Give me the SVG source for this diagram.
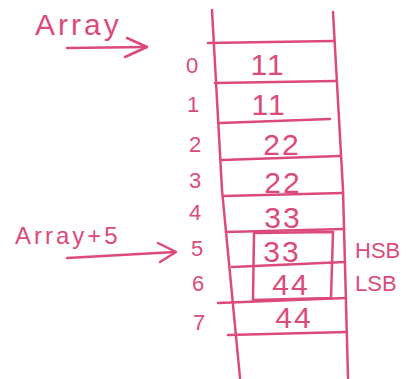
<svg xmlns="http://www.w3.org/2000/svg" width="409" height="379" viewBox="0 0 409 379">
<style>
.ink{stroke:#dc4a7c;stroke-width:2.5;fill:none;stroke-linecap:round;stroke-linejoin:round}
text{fill:#dc4a7c;font-family:"Liberation Sans","DejaVu Sans",sans-serif}
.idx{font-size:22px;text-anchor:middle}
.val{font-size:30px;text-anchor:middle;letter-spacing:2px}
.side{font-size:22px}
</style>
<rect width="409" height="379" fill="#fff"/>
<g id="connectors">
<path class="ink" d="M67,48 L147,47"/>
<path class="ink" d="M127,38 L147,47 L125,57"/>
<path class="ink" d="M67,258 L175,252"/>
<path class="ink" d="M158,243 L176,252 L160,262"/>
</g>
<g id="array-frame">
<path class="ink" d="M212,10 L222,190 L240,378"/>
<path class="ink" d="M333,12 L343,190 L348,378"/>
<path class="ink" d="M208,43 L333,41"/>
<path class="ink" d="M215,83 L335,81"/>
<path class="ink" d="M220,123 L330,119"/>
<path class="ink" d="M222,160 L340,156"/>
<path class="ink" d="M224,196 L343,193"/>
<path class="ink" d="M226,232 L344,229"/>
<path class="ink" d="M232,267 L345,262"/>
<path class="ink" d="M218,303 L346,298"/>
<path class="ink" d="M228,335 L347,332"/>
</g>
<g id="label-array"><text x="35" y="35" style="font-size:30px;letter-spacing:3px">Array</text></g>
<g id="label-array5"><text x="15" y="244" style="font-size:24px;letter-spacing:3px">Array+5</text></g>
<g id="idx"><text class="idx" x="192" y="73">0</text><text class="idx" x="193" y="112">1</text><text class="idx" x="195" y="152">2</text><text class="idx" x="195" y="188">3</text><text class="idx" x="195" y="220">4</text><text class="idx" x="197" y="256">5</text><text class="idx" x="198" y="291">6</text><text class="idx" x="199" y="330">7</text></g>
<g id="cell0"><text class="val" x="268" y="75">11</text></g>
<g id="cell1"><text class="val" x="269" y="115">11</text></g>
<g id="cell2"><text class="val" x="282" y="155">22</text></g>
<g id="cell3"><text class="val" x="283" y="193">22</text></g>
<g id="cell4"><text class="val" x="283" y="228">33</text></g>
<g id="cell5"><text class="val" x="282" y="262">33</text></g>
<g id="cell6"><text class="val" x="291" y="295">44</text></g>
<g id="cell7"><text class="val" x="294" y="328">44</text></g>
<g id="word-box"><path class="ink" d="M254,233 L333,232 L331,298 L253,300 Z"/></g>
<g id="hsb"><text class="side" x="355" y="258">HSB</text></g>
<g id="lsb"><text class="side" x="355" y="291">LSB</text></g>
</svg>
